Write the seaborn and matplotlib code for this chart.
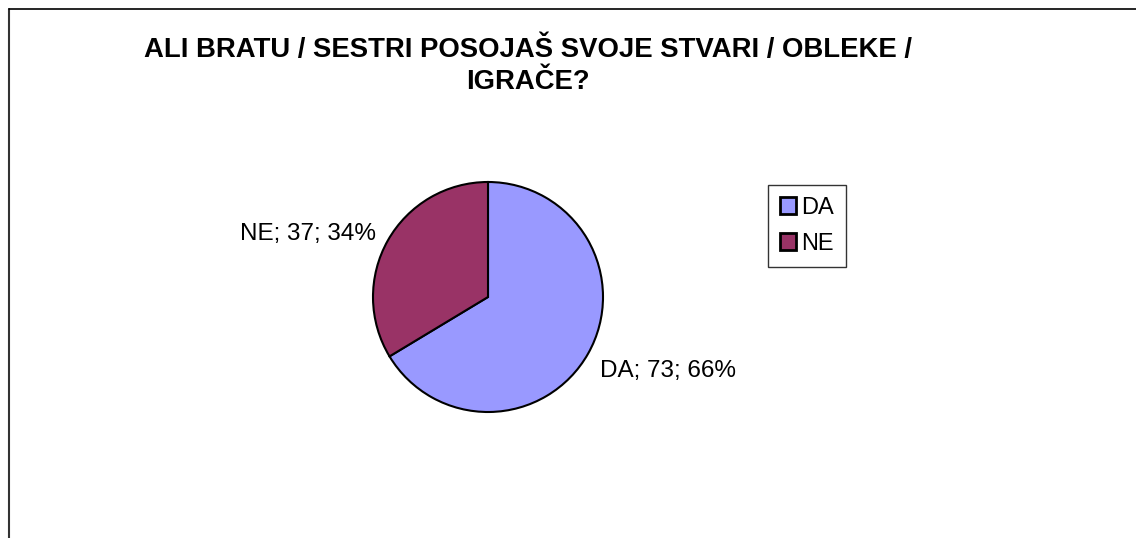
import matplotlib
matplotlib.use("Agg")
import matplotlib.pyplot as plt
import seaborn as sns
from matplotlib.lines import Line2D
from matplotlib.patches import Patch

CATEGORIES = ["DA", "NE"]
COUNTS = [73, 37]
COLORS = ["#9999FF", "#993366"]
TITLE = "ALI BRATU / SESTRI POSOJAŠ SVOJE STVARI / OBLEKE /\nIGRAČE?"

sns.set_style("white")
plt.rcParams["font.family"] = ["Liberation Sans", "DejaVu Sans"]
plt.rcParams["text.color"] = "black"

W, H = 1136, 538
fig = plt.figure(figsize=(W / 100, H / 100), dpi=100)

# pie centre ~ (488, 297) px, radius ~115 px
cx, cy, r = 488, 297, 115
ax = fig.add_axes([(cx - r) / W, (H - cy - r) / H, 2 * r / W, 2 * r / H])

total = sum(COUNTS)
labels = [f"{c}; {v}; {round(100 * v / total)}%" for c, v in zip(CATEGORIES, COUNTS)]
wedges, texts = ax.pie(
    COUNTS, colors=COLORS, startangle=90, counterclock=False,
    labels=labels, labeldistance=1.12, radius=1,
    wedgeprops=dict(edgecolor="black", linewidth=1.5),
    textprops=dict(fontsize=17.5, color="black"),
)
texts[0].set_va("top")
ax.set_xlim(-1, 1)
ax.set_ylim(-1, 1)
ax.set_aspect("equal")
ax.axis("off")

fig.text(528 / W, 1 - 66 / H, TITLE, ha="center", va="center",
         fontsize=19.8, fontweight="bold", linespacing=1.3)

handles = [Patch(facecolor=c, edgecolor="black", linewidth=2) for c in COLORS]
leg = fig.legend(handles, CATEGORIES, loc="upper left",
                 bbox_to_anchor=(768 / W, 1 - 185 / H), fontsize=17,
                 frameon=True, fancybox=False, handlelength=0.7, handleheight=0.7,
                 handletextpad=0.2, borderpad=0.5, labelspacing=0.6,
                 borderaxespad=0)
leg.get_frame().set_edgecolor("black")
leg.get_frame().set_linewidth(1)

# outer chart frame (only left and top edges are visible)
fig.add_artist(Line2D([9 / W, 9 / W], [0, 1 - 9 / H], color="#333333", linewidth=1.5))
fig.add_artist(Line2D([9 / W, 1], [1 - 9 / H, 1 - 9 / H], color="black", linewidth=1.2))

fig.savefig("out.png", dpi=100)
